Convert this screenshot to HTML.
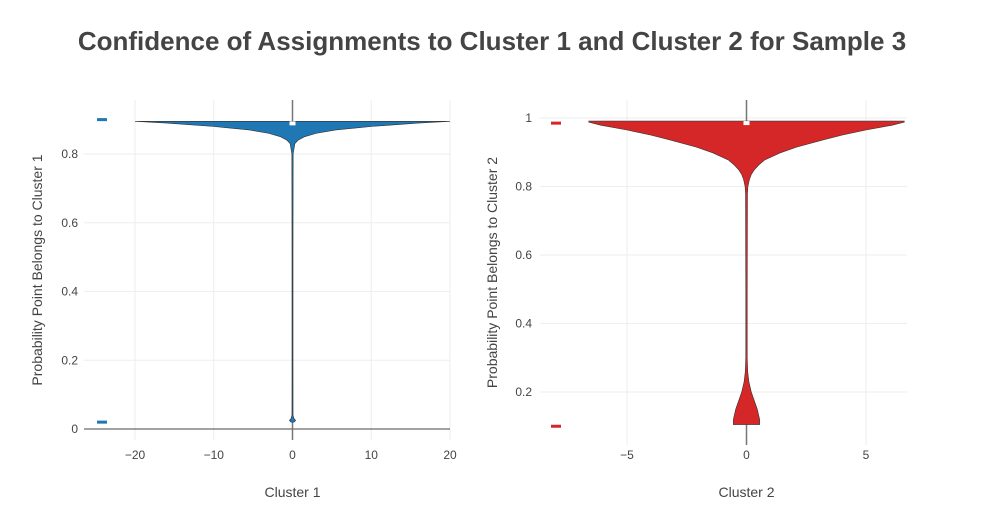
<!DOCTYPE html>
<html><head><meta charset="utf-8"><style>
body{margin:0;background:#fff;font-family:"Liberation Sans","DejaVu Sans",sans-serif}
svg text{font-family:"Liberation Sans","DejaVu Sans",sans-serif;fill:#444}
</style></head><body>
<svg id="chart" width="985" height="525">
<text x="492" y="50" text-anchor="middle" font-size="26" font-weight="bold" fill="#444">Confidence of Assignments to Cluster 1 and Cluster 2 for Sample 3</text>
</svg>
<script>
// Left violin (Cluster 1): y values and half-widths
const c1Y = [0.02,0.025,0.03,0.04,0.2,0.5,0.8,0.83,0.84,0.85,0.86,0.87,0.88,0.89,0.895];
const c1W = [0.2,0.4,0.2,0.06,0.05,0.05,0.08,0.3,0.7,1.5,3,5.5,10,16,20];
const c1Ticks = [-20,-10,0,10,20];
const c1YTicks = [0,0.2,0.4,0.6,0.8];
const c1Rug = [0.02,0.9];
// Right violin (Cluster 2)
const c2Y = [0.105,0.12,0.15,0.18,0.2,0.23,0.26,0.3,0.5,0.78,0.8,0.82,0.835,0.848,0.862,0.877,0.898,0.915,0.936,0.95,0.965,0.979,0.988,0.991];
const c2W = [0.55,0.55,0.45,0.3,0.2,0.1,0.05,0.03,0.03,0.04,0.06,0.12,0.2,0.32,0.5,0.75,1.4,2.1,3.2,4.0,5.0,6.1,6.6,6.6];
const c2Ticks = [-5,0,5];
const c2YTicks = [0.2,0.4,0.6,0.8,1];
const c2Rug = [0.1,0.985];

const NS="http://www.w3.org/2000/svg";
const svg=document.getElementById('chart');
function mk(t,a,p){const e=document.createElementNS(NS,t);for(const k in a)e.setAttribute(k,a[k]);(p||svg).appendChild(e);return e;}

function panel(o){
  const sx=v=>o.x0+(v-o.xmin)/(o.xmax-o.xmin)*(o.x1-o.x0);
  const sy=v=>o.yb+(v-o.ymin)/(o.ymax-o.ymin)*(o.ytop-o.yb);
  const g=mk('g',{});
  
  
  o.xt.forEach(t=>{
    const l=mk('line',{x1:sx(t),x2:sx(t),y1:o.pt,y2:o.pb,stroke:'#eee'},g);
    
    
    const tx=mk('text',{x:sx(t),y:459,'text-anchor':'middle','font-size':12},g);
    tx.textContent=t<0?'\u2212'+(-t):String(t);
    
    
  });
  o.ytk.forEach(t=>{
    if(t!==0){const l=mk('line',{x1:o.gx0,x2:o.gx1,y1:sy(t),y2:sy(t),stroke:'#eee'},g);
    
    }
    const tx=mk('text',{x:o.ylabx,y:sy(t)+4,'text-anchor':'end','font-size':12},g);
    tx.textContent=String(t);
    
    
  });
  if(o.zeroline){const z=mk('line',{x1:o.gx0,x2:o.gx1,y1:sy(0),y2:sy(0),stroke:'#444'},g);
    
    }
  const w=mk('line',{x1:sx(0),x2:sx(0),y1:o.pt,y2:o.pb,stroke:'#777','stroke-width':1.5},g);
  
  
  let d='M'+o.vy.map((y,i)=>sx(o.vw[i])+','+sy(y)).join(' L');
  for(let i=o.vy.length-1;i>=0;i--)d+=' L'+sx(-o.vw[i])+','+sy(o.vy[i]);
  const v=mk('path',{d:d+'Z',fill:o.color,stroke:'#333','stroke-width':0.6},g);
  
  
  const m=mk('rect',{x:sx(0)-3,y:sy(o.vy[o.vy.length-1]),width:6,height:4,fill:'#fff'},g);
  
  
  o.rug.forEach(r=>{
    const rr=mk('rect',{x:o.rugx-5,y:sy(r)-1.5,width:10,height:3,fill:o.color},g);
    
    
  });
  const xt=mk('text',{x:(o.x0+o.x1)/2,y:497,'text-anchor':'middle','font-size':14},g);
  xt.textContent=o.xl;
  
  
  const cy=(o.pt+o.pb)/2;
  const yt=mk('text',{x:o.ylx,y:cy,'text-anchor':'middle','font-size':14,transform:`rotate(-90 ${o.ylx} ${cy})`},g);
  yt.textContent=o.yl;
  
  
}
panel({name:'cluster1-panel',xmin:-20,xmax:20,x0:135,x1:450,gx0:84,gx1:450,ymin:0,ymax:0.8,yb:429,ytop:154,pt:100,pb:440,
  xt:c1Ticks,ytk:c1YTicks,vy:c1Y,vw:c1W,color:'#1f77b4',rug:c1Rug,rugx:102,ylabx:78,xl:'Cluster 1',yl:'Probability Point Belongs to Cluster 1',ylx:42,zeroline:true});
panel({name:'cluster2-panel',xmin:-5,xmax:5,x0:627,x1:866,gx0:540,gx1:907,ymin:0.2,ymax:1,yb:392,ytop:118,pt:100,pb:445,
  xt:c2Ticks,ytk:c2YTicks,vy:c2Y,vw:c2W,color:'#d62728',rug:c2Rug,rugx:556,ylabx:532,xl:'Cluster 2',yl:'Probability Point Belongs to Cluster 2',ylx:497,zeroline:false});
</script>
</body></html>
